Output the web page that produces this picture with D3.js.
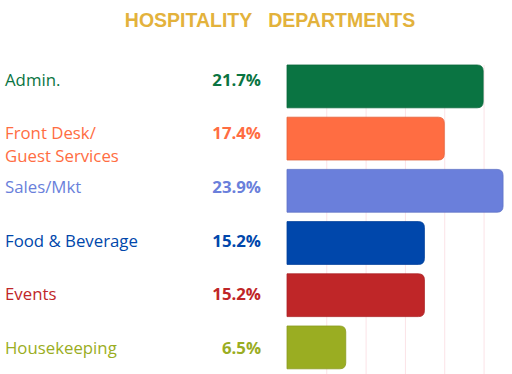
<!DOCTYPE html>
<html>
<head>
<meta charset="utf-8">
<script src="https://cdn.jsdelivr.net/npm/d3@7"></script>
<style>
  html, body { margin: 0; padding: 0; background: #fff; }
  svg { display: block; }
</style>
</head>
<body>
<script>
// data
const departments = ["Admin.", "Front Desk/\nGuest Services", "Sales/Mkt", "Food & Beverage", "Events", "Housekeeping"];
const shares = [21.7, 17.4, 23.9, 15.2, 15.2, 6.5];
const colors = ["#0a7442", "#ff6d42", "#6a7fdb", "#0047ab", "#bf2628", "#9aad22"];
const gridTicks = [4.4, 8.75, 13.1, 17.45, 21.8];

const width = 512, height = 374;

const svg = d3.select("body").append("svg")
  .attr("width", width)
  .attr("height", height);

const x = d3.scaleLinear().domain([0, 25]).range([287, 513]);
const y = d3.scaleBand()
  .domain(departments)
  .range([60.3, 373.5])
  .paddingInner(0.18)
  .paddingOuter(0.09);
// text rows are spaced a bit wider than the bars
const yText = d3.scalePoint().domain(departments).range([85.7, 354]);

// title
svg.append("text")
  .attr("x", 270)
  .attr("y", 27)
  .attr("text-anchor", "middle")
  .attr("font-family", "Liberation Sans, Arial, sans-serif")
  .attr("font-weight", "bold")
  .attr("font-size", 19.5)
  .attr("fill", "#e3b23c")
  .attr("xml:space", "preserve")
  .text("HOSPITALITY   DEPARTMENTS");

// grid lines
svg.selectAll("line.grid")
  .data(gridTicks)
  .enter()
  .append("line")
  .attr("class", "grid")
  .attr("x1", (d) => x(d))
  .attr("x2", (d) => x(d))
  .attr("y1", y(departments[0]))
  .attr("y2", height)
  .attr("stroke", "#fbe3e7")
  .attr("stroke-width", 1);

// bars, rounded on the right only
const r = 6;
function barPath(d, i) {
  const x0 = x(0), x1 = x(d), y0 = y(departments[i]), h = y.bandwidth();
  return `M${x0},${y0}H${x1 - r}Q${x1},${y0} ${x1},${y0 + r}` +
    `V${y0 + h - r}Q${x1},${y0 + h} ${x1 - r},${y0 + h}H${x0}Z`;
}

svg.selectAll("path.bar")
  .data(shares)
  .enter()
  .append("path")
  .attr("class", "bar")
  .attr("d", barPath)
  .attr("fill", (d, i) => colors[i])
  .attr("stroke", (d, i) => d3.color(colors[i]).darker(0.3))
  .attr("stroke-width", 0.8);

// category labels
const labels = svg.selectAll("text.label")
  .data(departments)
  .enter()
  .append("text")
  .attr("class", "label")
  .attr("y", (d) => yText(d))
  .attr("font-family", "'Open Sans', sans-serif")
  .attr("font-size", 16.8)
  .attr("fill", (d, i) => colors[i]);

labels.each(function (d) {
  const lines = d.split("\n");
  d3.select(this).selectAll("tspan")
    .data(lines)
    .enter()
    .append("tspan")
    .attr("x", 5)
    .attr("dy", (l, j) => (j === 0 ? 0 : 23))
    .text((l) => l);
});

// percentages
svg.selectAll("text.value")
  .data(shares)
  .enter()
  .append("text")
  .attr("class", "value")
  .attr("x", 261)
  .attr("y", (d, i) => yText(departments[i]))
  .attr("text-anchor", "end")
  .attr("font-family", "'Open Sans', sans-serif")
  .attr("font-weight", "bold")
  .attr("font-size", 16.8)
  .attr("fill", (d, i) => colors[i])
  .text((d) => d.toFixed(1) + "%");
</script>
</body>
</html>
